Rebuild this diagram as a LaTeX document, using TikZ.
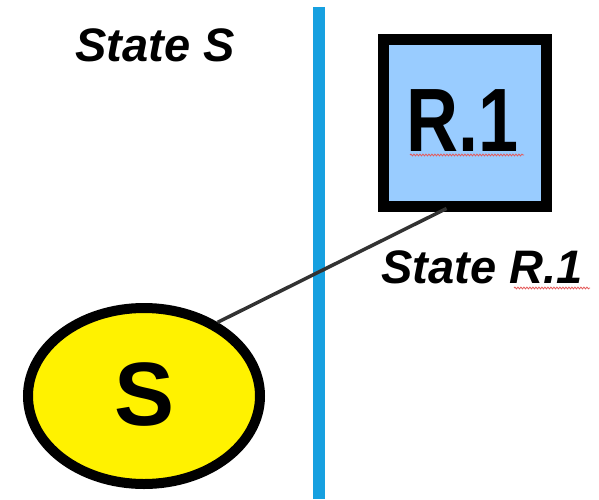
\documentclass[tikz,border=0pt]{standalone}
\usepackage{fontspec}
\setmainfont{Liberation Sans}
\usetikzlibrary{shapes.geometric,decorations.pathmorphing,calc}
\definecolor{boxblue}{RGB}{153,204,255}
\definecolor{lineblue}{RGB}{22,160,224}
\definecolor{conn}{RGB}{50,50,50}
\definecolor{squig}{RGB}{228,90,90}
\tikzset{
  statelabel/.style={font=\fontsize{47}{50}\selectfont\bfseries\itshape, inner sep=0pt, anchor=base},
  bigletter/.style={font=\fontsize{90}{96}\selectfont\bfseries, inner sep=0pt, anchor=base},
  squiggle/.style={draw=squig, line width=0.8pt, decorate, decoration={snake, amplitude=0.9pt, segment length=3pt}},
}
\begin{document}
\begin{tikzpicture}[x=1pt,y=1pt]
\useasboundingbox (0,0) rectangle (599,499);
% divider
\coordinate (top) at (319,492);
\coordinate (bot) at (319,0);
\draw[lineblue, line width=12pt] (top) -- (bot);
% nodes
\node[ellipse, draw=black, fill=yellow, line width=10pt, minimum width=232pt, minimum height=176pt, inner sep=0pt] (S) at (144,103) {};
\node[rectangle, draw=black, fill=boxblue, line width=11pt, minimum width=163pt, minimum height=166pt, inner sep=0pt] (R1) at (464.5,376) {};
% connector
\draw[conn, line width=3.5pt] (S.45) -- ([xshift=-18pt,yshift=3pt]R1.south);
% texts
\node[bigletter] (Stxt) at (145,74) {S};
\node[bigletter, xscale=0.8] (Rtxt) at (463,348) {R.1};
\node[statelabel] (lblS) at (155,437) {State S};
\node[statelabel] (lblR) at (482,216) {State R.1};
% spell-check squiggles
\coordinate (q1a) at (410,344);
\coordinate (q1b) at (524,344);
\coordinate (q2a) at (514,211);
\coordinate (q2b) at (590,211);
\draw[squiggle] (q1a) -- (q1b);
\draw[squiggle] (q2a) -- (q2b);
\end{tikzpicture}
\end{document}
